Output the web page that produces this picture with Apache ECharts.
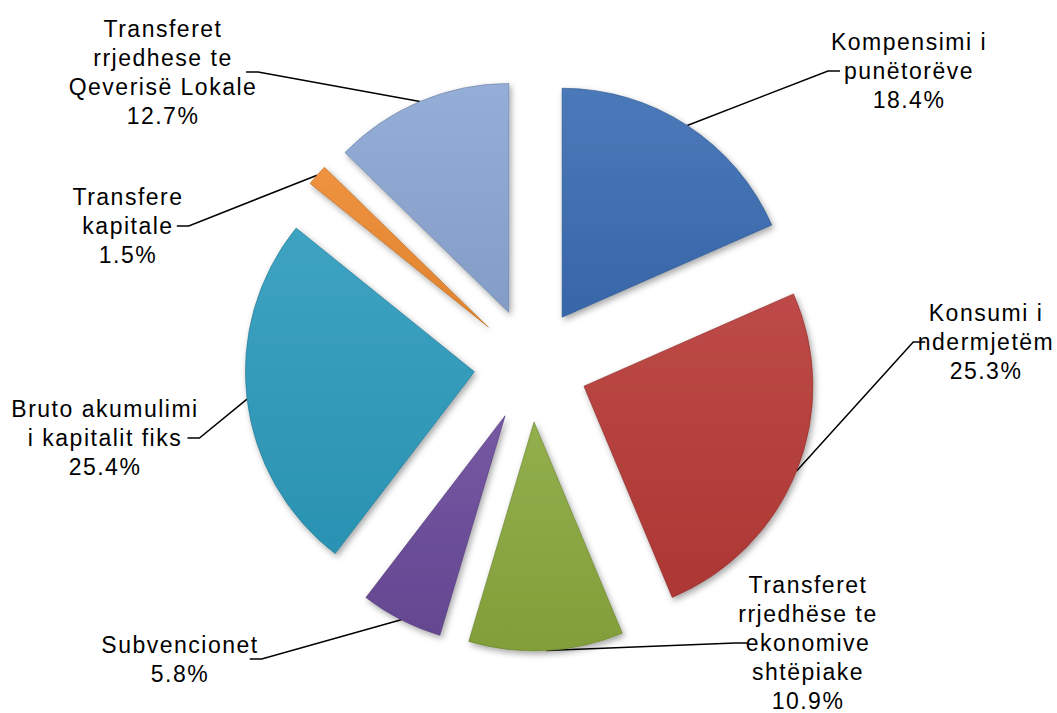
<!DOCTYPE html>
<html>
<head>
<meta charset="utf-8">
<script src="https://cdn.jsdelivr.net/npm/echarts@6/dist/echarts.min.js"></script>
<style>
  html, body { margin: 0; padding: 0; background: #ffffff; }
  #chart { width: 1057px; height: 713px; }
  #chart text { letter-spacing: 1.5px; }
</style>
</head>
<body>
<div id="chart"></div>
<script>
// Categories (label text as shown in the chart)
const categories = [
  'Kompensimi i\npunëtorëve',
  'Konsumi i\nndermjetëm',
  'Transferet\nrrjedhëse te\nekonomive\nshtëpiake',
  'Subvencionet',
  'Bruto akumulimi\ni kapitalit fiks',
  'Transfere\nkapitale',
  'Transferet\nrrjedhese te\nQeverisë Lokale'
];
// Share of each category, in percent
const values = [18.4, 25.3, 10.9, 5.8, 25.4, 1.5, 12.7];

// Styling / layout (not data)
const colors = ['#3b6db3', '#b73a37', '#89a83d', '#6a4a9a', '#2d9bbd', '#ee8a30', '#8ca7d3'];
const labelCenters = [[909, 71], [986, 342], [808, 643], [180, 659], [105, 438], [128, 226], [163, 72]];
const pieCenter = [531, 365];
const pieRadius = 229;
const explode = 57;

function shade(hex, f) {
  const n = parseInt(hex.slice(1), 16);
  let r = (n >> 16) & 255, g = (n >> 8) & 255, b = n & 255;
  const adj = c => Math.max(0, Math.min(255, Math.round(f >= 0 ? c + (255 - c) * f : c * (1 + f))));
  return 'rgb(' + adj(r) + ',' + adj(g) + ',' + adj(b) + ')';
}

const total = values.reduce((a, b) => a + b, 0);
let cum = 0;
const series = categories.map((cat, i) => {
  const mid = (cum + values[i] / 2) / total * 2 * Math.PI; // clockwise from 12 o'clock
  cum += values[i];
  const center = [pieCenter[0] + explode * Math.sin(mid), pieCenter[1] - explode * Math.cos(mid)];
  const data = categories.map((name, j) => {
    if (j !== i) {
      return {
        name: name,
        value: values[j],
        itemStyle: { color: 'rgba(0,0,0,0)', shadowBlur: 0, shadowColor: 'rgba(0,0,0,0)', borderWidth: 0 },
        label: { show: false },
        labelLine: { show: false }
      };
    }
    return {
      name: name,
      value: values[j],
      itemStyle: {
        color: {
          type: 'linear', x: 0, y: 0, x2: 0, y2: 1,
          colorStops: [
            { offset: 0, color: shade(colors[j], 0.08) },
            { offset: 1, color: shade(colors[j], -0.06) }
          ]
        },
        borderColor: shade(colors[j], -0.25),
        borderWidth: 0.6,
        shadowBlur: 6,
        shadowOffsetX: 2,
        shadowOffsetY: 3,
        shadowColor: 'rgba(0,0,0,0.35)'
      }
    };
  });
  return {
    type: 'pie',
    name: cat,
    center: center,
    radius: pieRadius,
    startAngle: 90,
    clockwise: true,
    avoidLabelOverlap: false,
    silent: true,
    data: data,
    label: {
      show: true,
      position: 'outside',
      color: '#000000',
      fontFamily: '"Liberation Sans", Arial, sans-serif',
      fontSize: 23,
      lineHeight: 29,
      align: 'center',
      formatter: p => p.name + '\n' + p.value.toFixed(1) + '%'
    },
    labelLine: {
      show: true,
      length: 10,
      length2: 12,
      smooth: false,
      lineStyle: { color: '#000000', width: 1.5 }
    },
    labelLayout: function (params) {
      const c = labelCenters[params.dataIndex];
      return { x: c[0], y: c[1], align: 'center', verticalAlign: 'middle' };
    },
    emphasis: { disabled: true }
  };
});

const chart = echarts.init(document.getElementById('chart'), null, { renderer: 'svg' });
chart.setOption({
  backgroundColor: '#ffffff',
  animation: false,
  series: series
});
</script>
</body>
</html>
